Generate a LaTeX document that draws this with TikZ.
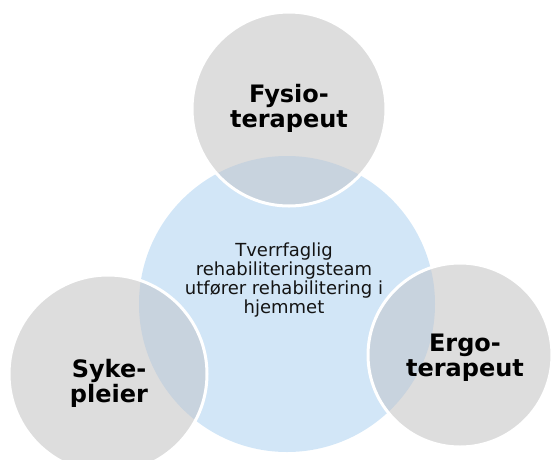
\documentclass[tikz,border=0pt]{standalone}
\usepackage{fontspec}
\setmainfont{DejaVu Sans}
\definecolor{bluefill}{HTML}{D2E6F7}
\definecolor{grayfill}{HTML}{DDDDDD}
\definecolor{overlapfill}{HTML}{C8D3DE}
\tikzset{
  rolelabel/.style={font=\fontsize{24}{25}\selectfont\bfseries, align=center, text=black, inner sep=0pt},
  centerlabel/.style={font=\fontsize{18}{19.3}\selectfont, align=center, text=black!92, inner sep=0pt},
  ring/.style={draw=white, line width=3pt}
}
\begin{document}
\begin{tikzpicture}[x=1pt,y=-1pt]
\useasboundingbox (0,0) rectangle (555,459);
% geometry
\coordinate (cC) at (287,304);
\coordinate (cT) at (289,109);
\coordinate (cL) at (108,374);
\coordinate (cR) at (460,355);
\def\rC{148}
\def\rT{97}
\def\rL{99}
\def\rR{92}
% central circle
\fill[bluefill] (cC) circle (\rC);
% gray circles
\fill[grayfill] (cT) circle (\rT);
\fill[grayfill] (cL) circle (\rL);
\fill[grayfill] (cR) circle (\rR);
% overlaps
\begin{scope}
  \clip (cC) circle (\rC);
  \fill[overlapfill] (cT) circle (\rT);
  \fill[overlapfill] (cL) circle (\rL);
  \fill[overlapfill] (cR) circle (\rR);
\end{scope}
% white rings
\draw[ring] (cT) circle (\rT);
\draw[ring] (cL) circle (\rL);
\draw[ring] (cR) circle (\rR);
% labels
\node[centerlabel] (team) at (284,280) {Tverrfaglig\\rehabiliteringsteam\\utfører rehabilitering i\\hjemmet};
\node[rolelabel] (fysio) at (289,108) {Fysio-\\terapeut};
\node[rolelabel] (syke) at (109,383) {Syke-\\pleier};
\node[rolelabel] (ergo) at (465,358) {Ergo-\\terapeut};
\end{tikzpicture}
\end{document}
